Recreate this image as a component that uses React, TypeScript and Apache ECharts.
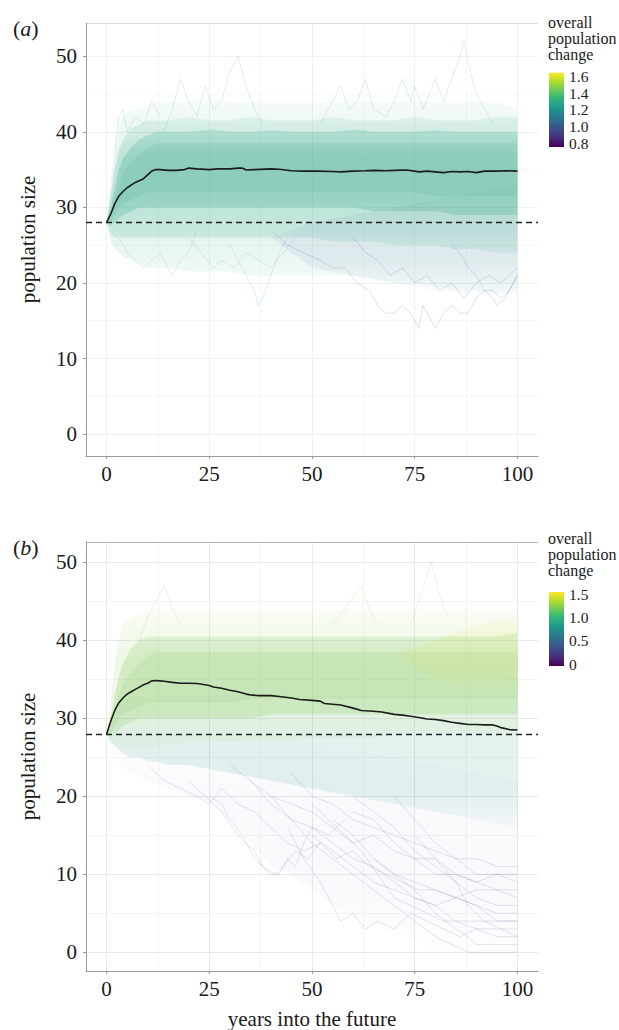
import React, { useEffect, useRef } from 'react';
import * as echarts from 'echarts';

// ---------- axes ----------
const xTicks = [0, 25, 50, 75, 100];
const xMinor = [12.5, 37.5, 62.5, 87.5];
const yTicks = [0, 10, 20, 30, 40, 50];
const yMinor = [5, 15, 25, 35, 45];
const baseline = 28;

// ---------- mean trajectories ----------
const meanYearsA = [0, 1, 2, 3, 4, 5, 7, 9, 10, 11, 12, 13, 15, 17, 19, 20, 22, 25, 27, 30, 32, 33, 34, 36, 40, 42, 45, 48, 51, 55, 57, 60, 63, 65, 68, 70, 73, 75, 76, 78, 80, 82, 84, 86, 88, 90, 92, 93, 95, 97, 100];
const meanA = [28, 29.1, 30.5, 31.5, 32.1, 32.6, 33.3, 33.8, 34.3, 34.8, 35, 35, 34.9, 34.9, 35, 35.2, 35.1, 35, 35.1, 35.1, 35.2, 35.2, 34.95, 35, 35.1, 35.05, 34.85, 34.8, 34.8, 34.75, 34.7, 34.8, 34.85, 34.9, 34.85, 34.9, 34.95, 34.8, 34.7, 34.8, 34.7, 34.6, 34.75, 34.7, 34.75, 34.6, 34.8, 34.8, 34.8, 34.85, 34.8];

const meanYearsB = [0, 1, 2, 3, 4, 5, 6, 7, 8, 9, 10, 11, 12, 13, 14, 16, 18, 20, 22, 24, 25, 26, 28, 30, 32, 34, 35, 37, 40, 42, 45, 47, 50, 52, 53, 55, 57, 60, 62, 65, 67, 70, 72, 74, 76, 78, 80, 82, 84, 86, 88, 90, 92, 94, 95, 96, 98, 100];
const meanB = [28, 29.6, 31, 32, 32.6, 33.1, 33.4, 33.7, 34, 34.3, 34.5, 34.8, 34.85, 34.8, 34.75, 34.6, 34.5, 34.5, 34.45, 34.3, 34.2, 34, 33.85, 33.6, 33.4, 33.1, 33, 32.9, 32.9, 32.8, 32.6, 32.4, 32.3, 32.2, 31.9, 31.8, 31.7, 31.3, 31, 30.9, 30.8, 30.5, 30.4, 30.25, 30.1, 29.9, 29.85, 29.7, 29.5, 29.35, 29.2, 29.2, 29.15, 29.15, 29.0, 28.8, 28.55, 28.5];

// ---------- envelopes of the simulated trajectories ----------
const bandYears = [0, 1, 2, 3, 4, 6, 8, 10, 12, 15, 20, 25, 30, 35, 40, 45, 50, 55, 60, 65, 70, 75, 80, 85, 90, 95, 100];

// panel (a)
const hazeHiA = [28, 33, 38, 41, 42, 43, 43, 43.5, 44, 44, 44, 44.5, 44, 44, 44, 44, 44, 44, 44, 44, 44, 44, 44, 44, 44, 44, 43];
const hazeLoA = [28, 25.5, 24.5, 24, 23.5, 23, 22.5, 22, 22, 22, 21.5, 21.5, 21.5, 21, 21, 21, 21, 21, 21, 20.5, 20, 20, 19.5, 19, 19, 18.5, 19];
const midHiA = [28, 31.5, 35, 37.5, 39, 40.5, 41, 41.5, 41.5, 41.5, 42, 41.5, 41.5, 42, 41.5, 41.5, 41.5, 42, 41.5, 41.5, 41.5, 42, 41.5, 41.5, 41.5, 42, 42];
const midLoA = [28, 26.5, 26, 26, 26, 26, 26, 26, 26, 26, 26, 26, 26, 26, 26, 26, 26, 25.5, 25.5, 25.5, 25, 25, 25, 24.5, 24.5, 24, 24];
const coreHiA = [28, 30, 32.5, 35, 36.5, 38, 39, 39.5, 40, 40, 40, 40.3, 40, 40, 40.2, 40, 40, 40, 40.3, 40, 40, 40, 40.2, 40, 40, 40, 40];
const coreLoA = [28, 27.5, 28, 28.5, 29, 29.5, 30, 30, 30, 30, 30, 30, 30, 30, 30, 30, 30, 30, 30, 29.5, 29.5, 29.5, 29.5, 29, 29, 29, 29];
const denseHiA = [28, 29, 31, 33, 34.5, 36, 37, 38, 38.5, 38.5, 38.5, 38.5, 38.5, 38.5, 38.5, 38.5, 38.5, 38.5, 38.5, 38.5, 38.5, 38.5, 38.5, 38.5, 38.5, 38.5, 38.5];
const denseLoA = [28, 28, 29, 30, 30.5, 31, 31.5, 32, 32, 32, 32, 32, 32, 32, 32, 32, 32, 32, 32, 32, 32, 32, 31.5, 31.5, 31.5, 31.5, 31.5];
const blueYearsA = [40, 50, 60, 70, 80, 90, 100];
const blueHiA = [26, 28, 29, 30, 31, 32, 33];
const blueLoA = [26, 22, 21, 20, 19, 18.5, 18.5];

// panel (b)
const greenHazeHiB = [28, 32, 37, 40, 42, 43, 43.5, 44, 44, 44, 44, 44, 44, 44, 44, 44, 44, 44, 44, 44, 44, 44, 44, 44, 44, 44, 44];
const greenHazeLoB = [28, 26.5, 26, 26, 26, 26, 26, 26, 26.5, 26.5, 27, 27, 27, 27, 27, 27, 27.5, 27.5, 27.5, 27.5, 28, 28, 28, 28, 28, 28, 28];
const coreHiB = [28, 30, 33, 35.5, 37, 39, 40, 40.5, 40.5, 40.5, 40.5, 40.5, 40.5, 40.5, 40.5, 40.5, 40.5, 40.5, 40.5, 40.5, 40.5, 40.5, 40.5, 40.5, 40.5, 40.5, 41];
const coreLoB = [28, 27.5, 28, 28.5, 29, 29.5, 30, 30, 30, 30, 30, 30, 30, 30, 30.5, 30.5, 30.5, 30.5, 30.5, 30.5, 30.5, 30.5, 30.5, 30.5, 30.5, 30.5, 30.5];
const denseHiB = [28, 29, 31, 33, 34.5, 36, 37, 38, 38.5, 38.5, 38.5, 38.5, 38.5, 38.5, 38.5, 38.5, 38.5, 38.5, 38.5, 38.5, 38.5, 38.5, 38.5, 38.5, 38.5, 38.5, 38.5];
const denseLoB = [28, 28, 29, 30, 30.5, 31, 31.5, 32, 32, 32, 32, 32, 32, 32.5, 32.5, 32.5, 32.5, 32.5, 32.5, 32.5, 32.5, 32.5, 32.5, 32.5, 32.5, 32.5, 32.5];
const tealHiB = [28, 29, 30, 31, 32, 33, 33, 33, 33, 33, 33, 33, 33, 33, 33, 33, 33, 33, 33, 33, 33, 33, 33, 33, 33, 33, 33];
const tealLoB = [28, 27, 26.5, 26, 25.5, 25, 25, 24.5, 24.5, 24, 24, 23.5, 23, 22.5, 22, 21.5, 21, 20.5, 20, 19.5, 19, 18.5, 18, 17.5, 17, 16.5, 16];
const purpleHiB = [28, 28, 28, 28, 28, 28, 28, 28, 28, 28, 28, 28, 27.5, 27, 27, 27, 26.5, 26, 26, 25.5, 25, 24.5, 24, 23.5, 23, 22.5, 22];
const purpleLoB = [28, 26, 25, 24, 23.5, 23, 22.5, 22, 21.5, 21, 20, 19.5, 17, 14, 11, 10, 8, 6, 4.5, 3.5, 2.5, 1.5, 0.5, 0, 0, 0, 0];
const yellowYearsB = [70, 80, 85, 90, 95, 100];
const yellowHiB = [38, 40, 41, 42, 42.5, 43];
const yellowLoB = [38, 35, 34, 34, 34, 34];

// ---------- individual visible trajectories (years, size) ----------
const traceA1 = [[40, 27], [44, 25], [48, 24], [52, 23], [55, 22], [58, 22], [61, 20], [64, 19], [66, 17], [68, 16], [70, 16], [72, 17], [74, 16], [76, 14], [77, 17], [78, 16], [80, 14], [82, 16], [84, 17], [86, 16], [88, 16], [90, 18], [92, 19], [94, 19], [96, 18], [98, 19], [100, 21]];
const traceA2 = [[3, 26], [5, 24], [7, 23], [9, 22], [11, 23], [13, 24], [15, 22], [16, 21], [18, 23], [20, 24], [22, 27]];
const traceA3 = [[30, 25], [32, 23], [34, 21], [36, 19], [37, 17], [38, 18], [40, 21], [42, 24], [44, 26]];
const traceA4 = [[84, 25], [86, 24], [88, 22], [90, 21], [92, 19], [94, 18], [95, 17], [97, 18], [98, 19], [100, 21]];
const traceA5 = [[14, 40], [16, 43], [18, 47], [20, 44], [22, 42], [24, 46], [26, 43], [28, 44], [30, 48], [32, 50], [34, 46], [36, 43], [38, 41]];
const traceA6 = [[52, 41], [54, 43], [57, 46], [59, 43], [61, 44], [63, 47], [65, 43], [68, 42], [70, 44], [72, 47], [74, 44], [75, 46], [77, 43], [80, 47], [82, 44], [84, 47], [86, 50], [87, 52], [88, 49], [90, 45], [92, 43], [94, 41]];
const traceA7 = [[2, 38], [3, 42], [4, 43], [5, 40], [7, 42], [9, 41], [11, 44], [13, 42]];
const traceA8 = [[60, 26], [63, 24], [66, 23], [69, 21], [72, 22], [75, 20], [78, 21], [81, 19], [84, 20], [87, 18], [90, 20], [93, 21], [96, 20], [100, 22]];
const traceA9 = [[20, 26], [23, 24], [26, 22], [28, 23], [31, 22], [34, 24], [37, 23], [40, 22], [43, 24], [46, 26]];

const traceB1 = [[20, 22], [24, 20], [28, 18], [32, 15], [36, 13], [38, 11], [40, 10], [42, 10], [44, 12], [46, 11], [48, 14], [50, 16], [54, 15], [58, 17]];
const traceB2 = [[40, 20], [45, 17], [50, 14], [55, 12], [60, 10], [65, 8], [70, 6], [75, 4], [80, 2], [84, 1], [88, 0], [100, 0]];
const traceB3 = [[44, 16], [48, 12], [52, 9], [55, 6], [57, 4], [60, 5], [63, 3], [66, 4], [70, 3], [74, 5], [78, 4], [82, 3], [86, 2], [90, 3], [100, 3]];
const traceB4 = [[50, 15], [55, 13], [60, 11], [65, 9], [70, 8], [75, 7], [80, 6], [85, 7], [90, 6], [95, 5], [100, 5]];
const traceB5 = [[55, 17], [60, 15], [65, 12], [70, 10], [75, 9], [80, 8], [85, 7], [90, 6], [95, 4], [100, 4]];
const traceB6 = [[60, 18], [65, 17], [70, 14], [75, 12], [80, 10], [85, 10], [90, 9], [95, 8], [100, 7]];
const traceB7 = [[65, 12], [70, 10], [75, 8], [80, 5], [85, 3], [88, 2], [90, 1], [100, 1]];
const traceB8 = [[70, 20], [75, 17], [80, 14], [85, 12], [90, 10], [95, 10], [100, 10]];
const traceB9 = [[8, 40], [10, 43], [12, 45], [14, 47], [16, 44], [18, 42]];
const traceB10 = [[55, 42], [58, 44], [62, 47], [64, 44], [66, 42]];
const traceB11 = [[74, 42], [76, 45], [79, 50], [81, 46], [83, 43]];
const traceB12 = [[10, 24], [14, 22], [18, 21], [22, 20], [25, 19], [28, 21], [32, 19], [36, 18], [40, 16], [44, 14], [48, 13], [52, 14], [56, 12], [60, 13], [64, 11], [68, 10], [72, 9], [76, 8], [80, 8], [85, 7], [90, 8], [100, 8]];
const traceB13 = [[30, 24], [35, 22], [40, 20], [45, 19], [50, 18], [55, 16], [60, 14], [65, 15], [70, 13], [75, 12], [80, 12], [85, 10], [90, 9], [95, 10], [100, 9]];
const traceB14 = [[35, 22], [40, 19], [45, 17], [50, 16], [55, 14], [60, 12], [65, 11], [70, 9], [75, 7], [80, 6], [85, 4], [90, 3], [95, 2], [100, 2]];
const traceB15 = [[45, 23], [50, 20], [55, 19], [60, 17], [65, 16], [70, 15], [75, 14], [80, 13], [85, 12], [90, 12], [95, 11], [100, 11]];
const traceB16 = [[25, 20], [28, 19], [30, 17], [33, 15], [36, 12], [38, 11], [41, 10], [43, 11], [46, 13], [49, 12], [52, 14]];
const traceB17 = [[60, 20], [65, 18], [70, 16], [75, 13], [80, 11], [85, 9], [90, 7], [95, 6], [100, 6]];
const traceB18 = [[75, 15], [80, 12], [85, 9], [88, 6], [92, 4], [96, 3], [100, 2]];
const traceB19 = [[50, 19], [54, 17], [58, 15], [62, 13], [66, 10], [70, 7], [74, 6], [78, 5], [82, 4], [86, 4], [90, 4], [100, 4]];

// ---------- colour bars ----------
const legendTicksA = [0.8, 1.0, 1.2, 1.4, 1.6];
const legendRangeA = [0.755, 1.648];
const legendTicksB = [0, 0.5, 1.0, 1.5];
const legendRangeB = [-0.04, 1.55];
const viridis = ['#440154', '#482878', '#3e4989', '#31688e', '#26828e', '#1f9e89', '#35b779', '#6ece58', '#b5de2b', '#fde725'];

const FONT = "'Liberation Serif', 'DejaVu Serif', serif";
const TXT = '#1a1a1a';

function vGrad(rgb: string, edge: number, mid: number) {
  return {
    type: 'linear', x: 0, y: 0, x2: 0, y2: 1,
    colorStops: [
      { offset: 0, color: `rgba(${rgb},${edge})` },
      { offset: 0.3, color: `rgba(${rgb},${mid})` },
      { offset: 0.7, color: `rgba(${rgb},${mid})` },
      { offset: 1, color: `rgba(${rgb},${edge})` },
    ],
  };
}

function band(idx: number, years: number[], hi: number[], lo: number[], fill: any, z = 2) {
  return {
    type: 'custom',
    xAxisIndex: idx,
    yAxisIndex: idx,
    silent: true,
    z,
    data: [[years[0], lo[0]]],
    renderItem: (_p: any, api: any) => {
      const pts: number[][] = [];
      for (let i = 0; i < years.length; i++) pts.push(api.coord([years[i], hi[i]]));
      for (let i = years.length - 1; i >= 0; i--) pts.push(api.coord([years[i], lo[i]]));
      return { type: 'polygon', shape: { points: pts }, style: { fill } };
    },
  };
}

function trace(idx: number, data: number[][], color: string) {
  return {
    type: 'line',
    xAxisIndex: idx,
    yAxisIndex: idx,
    data,
    showSymbol: false,
    symbol: 'none',
    silent: true,
    z: 3,
    lineStyle: { color, width: 0.8 },
  };
}

function gridLines(idx: number, major: string, minor: string, top: number, topColor: string) {
  const mk = (key: string, v: number, c: string) => ({ [key]: v, lineStyle: { color: c, width: 1, type: 'solid' } });
  return {
    type: 'line',
    xAxisIndex: idx,
    yAxisIndex: idx,
    data: [],
    silent: true,
    z: 0,
    markLine: {
      silent: true,
      z: 0,
      symbol: ['none', 'none'],
      label: { show: false },
      animation: false,
      lineStyle: { type: 'solid' },
      data: [
        ...xMinor.map((v) => mk('xAxis', v, minor)),
        ...yMinor.map((v) => mk('yAxis', v, minor)),
        ...xTicks.map((v) => mk('xAxis', v, major)),
        ...yTicks.map((v) => mk('yAxis', v, major)),
        mk('yAxis', top, topColor),
      ],
    },
  };
}

function meanSeries(idx: number, years: number[], vals: number[]) {
  return {
    type: 'line',
    xAxisIndex: idx,
    yAxisIndex: idx,
    data: years.map((y, i) => [y, vals[i]]),
    showSymbol: false,
    symbol: 'none',
    silent: true,
    z: 6,
    lineStyle: { color: '#1c1c1c', width: 1.6 },
    markLine: {
      silent: true,
      z: 7,
      symbol: ['none', 'none'],
      label: { show: false },
      animation: false,
      lineStyle: { color: '#222', width: 1.3, type: [6, 4] },
      data: [{ yAxis: baseline }],
    },
  };
}

function colorBar(top: number, bottom: number, ticks: number[], range: number[], titleY: number, fmt: (v: number) => string) {
  const x = 549;
  const w = 15;
  const els: any[] = [
    {
      type: 'text',
      x: 548,
      y: titleY,
      style: { text: 'overall\npopulation\nchange', fontFamily: FONT, fontSize: 16, lineHeight: 15.7, fill: TXT, verticalAlign: 'top' },
    },
    {
      type: 'rect',
      shape: { x, y: top, width: w, height: bottom - top },
      style: {
        fill: {
          type: 'linear', x: 0, y: 0, x2: 0, y2: 1,
          colorStops: viridis.slice().reverse().map((c, i) => ({ offset: i / (viridis.length - 1), color: c })),
        },
      },
    },
  ];
  ticks.forEach((v) => {
    const y = bottom - ((v - range[0]) / (range[1] - range[0])) * (bottom - top);
    els.push({ type: 'text', x: 569, y, style: { text: fmt(v), fontFamily: FONT, fontSize: 15.5, fill: TXT, verticalAlign: 'middle' } });
  });
  return els;
}

function xAxis(idx: number, withName: boolean) {
  return {
    type: 'value',
    gridIndex: idx,
    min: -5,
    max: 105,
    axisLine: { show: true, onZero: false, lineStyle: { color: '#9a9a9a', width: 1 } },
    axisTick: { show: true, length: 3, customValues: xTicks, lineStyle: { color: '#9a9a9a' } },
    axisLabel: { customValues: xTicks, color: TXT, fontFamily: FONT, fontSize: 21, margin: 7 },
    splitLine: { show: false },
    ...(withName
      ? { name: 'years into the future', nameLocation: 'middle', nameGap: 37, nameTextStyle: { color: TXT, fontFamily: FONT, fontSize: 21 } }
      : {}),
  };
}

function yAxis(idx: number, min: number, max: number) {
  return {
    type: 'value',
    gridIndex: idx,
    min,
    max,
    axisLine: { show: true, onZero: false, lineStyle: { color: '#9a9a9a', width: 1 } },
    axisTick: { show: true, length: 3, customValues: yTicks, lineStyle: { color: '#9a9a9a' } },
    axisLabel: { customValues: yTicks, color: TXT, fontFamily: FONT, fontSize: 21, margin: 9 },
    splitLine: { show: false },
    name: 'population size',
    nameLocation: 'middle',
    nameGap: 48,
    nameTextStyle: { color: TXT, fontFamily: FONT, fontSize: 21 },
  };
}

export default function App() {
  const ref = useRef<HTMLDivElement>(null);
  useEffect(() => {
    if (!ref.current) return;
    const chart = echarts.init(ref.current, null, { renderer: 'svg' });
    const yMaxA = 54.4;
    const yMaxB = 52.6;
    const gA = '40,165,130';
    const blueLine = 'rgba(95,105,165,0.26)';
    const greenLine = 'rgba(60,170,140,0.22)';
    const purpleLine = 'rgba(105,90,150,0.22)';
    const yellowLine = 'rgba(150,205,90,0.25)';
    const rich = {
      n: { fontFamily: FONT, fontSize: 22, fill: TXT },
      i: { fontFamily: FONT, fontSize: 22, fontStyle: 'italic', fill: TXT },
    };
    const option: any = {
      animation: false,
      textStyle: { fontFamily: FONT },
      grid: [
        { left: 86, top: 23, width: 452, height: 433 },
        { left: 86, top: 542, width: 452, height: 432 },
      ],
      xAxis: [xAxis(0, false), xAxis(1, true)],
      yAxis: [yAxis(0, -2.9, yMaxA), yAxis(1, -2.4, yMaxB)],
      series: [
        gridLines(0, '#f0f0f0', '#f7f7f7', yMaxA, '#dcdcdc'),
        gridLines(1, '#e9e9e9', '#f4f4f4', yMaxB, '#b4b4b4'),
        // panel a cloud
        band(0, bandYears, hazeHiA, hazeLoA, vGrad(gA, 0.04, 0.12)),
        band(0, blueYearsA, blueHiA, blueLoA, vGrad('80,95,165', 0.02, 0.08)),
        band(0, bandYears, midHiA, midLoA, vGrad(gA, 0.1, 0.2)),
        band(0, bandYears, coreHiA, coreLoA, vGrad(gA, 0.18, 0.26)),
        band(0, bandYears, denseHiA, denseLoA, 'rgba(35,150,125,0.1)'),
        trace(0, traceA1, blueLine),
        trace(0, traceA2, greenLine),
        trace(0, traceA3, greenLine),
        trace(0, traceA4, blueLine),
        trace(0, traceA5, greenLine),
        trace(0, traceA6, greenLine),
        trace(0, traceA7, greenLine),
        trace(0, traceA8, blueLine),
        trace(0, traceA9, greenLine),
        meanSeries(0, meanYearsA, meanA),
        // panel b cloud
        band(1, bandYears, purpleHiB, purpleLoB, vGrad('105,90,155', 0.01, 0.035)),
        band(1, bandYears, tealHiB, tealLoB, vGrad('50,160,140', 0.03, 0.13)),
        band(1, bandYears, greenHazeHiB, greenHazeLoB, vGrad('150,210,90', 0.05, 0.15)),
        band(1, bandYears, coreHiB, coreLoB, vGrad('130,200,95', 0.18, 0.26)),
        band(1, bandYears, denseHiB, denseLoB, 'rgba(115,190,100,0.12)'),
        band(1, yellowYearsB, yellowHiB, yellowLoB, vGrad('225,225,70', 0.04, 0.14)),
        trace(1, traceB1, purpleLine),
        trace(1, traceB2, purpleLine),
        trace(1, traceB3, purpleLine),
        trace(1, traceB4, purpleLine),
        trace(1, traceB5, purpleLine),
        trace(1, traceB6, purpleLine),
        trace(1, traceB7, purpleLine),
        trace(1, traceB8, purpleLine),
        trace(1, traceB9, yellowLine),
        trace(1, traceB10, yellowLine),
        trace(1, traceB11, yellowLine),
        trace(1, traceB12, purpleLine),
        trace(1, traceB13, purpleLine),
        trace(1, traceB14, purpleLine),
        trace(1, traceB15, purpleLine),
        trace(1, traceB16, purpleLine),
        trace(1, traceB17, purpleLine),
        trace(1, traceB18, purpleLine),
        trace(1, traceB19, purpleLine),
        meanSeries(1, meanYearsB, meanB),
      ],
      graphic: [
        { type: 'text', x: 13, y: 28, style: { text: '{n|(}{i|a}{n|)}', fill: TXT, verticalAlign: 'middle', rich } },
        { type: 'text', x: 13, y: 547, style: { text: '{n|(}{i|b}{n|)}', fill: TXT, verticalAlign: 'middle', rich } },
        ...colorBar(72.7, 147, legendTicksA, legendRangeA, 15, (v) => v.toFixed(1)),
        ...colorBar(592, 666, legendTicksB, legendRangeB, 531, (v) => (v === 0 ? '0' : v.toFixed(1))),
      ],
    };
    chart.setOption(option);
    return () => chart.dispose();
  }, []);
  return <div ref={ref} style={{ position: 'absolute', left: 0, top: 0, width: 619, height: 1030, background: '#fff' }} />;
}
